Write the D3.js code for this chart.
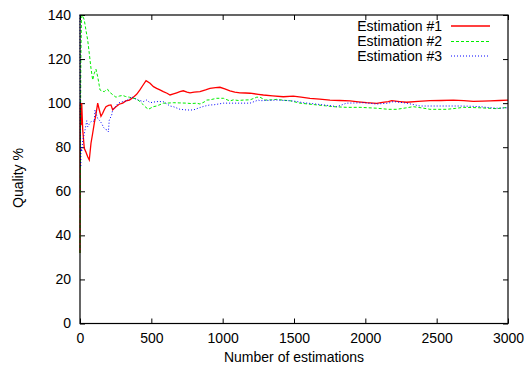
<!DOCTYPE html>
<html>
<head>
<meta charset="utf-8">
<script src="https://cdn.jsdelivr.net/npm/d3@7/dist/d3.min.js"></script>
<style>
  html, body { margin: 0; padding: 0; background: #fff; }
  svg { display: block; }
  text { font-family: "Liberation Sans", Arial, Helvetica, sans-serif; font-size: 14px; fill: #000; }
</style>
</head>
<body>
<svg id="chart" width="526" height="366"></svg>
<script>
// Running quality estimate (%) after N estimations, three independent runs.
const seriesNames = ["Estimation #1", "Estimation #2", "Estimation #3"];

const est1 = [[0,32],[1,60],[2,100],[4,95],[8,90],[12,100],[19,88],[30,79.5],[40,78],[54,75.7],[65,74.2],[77,81.8],[88,86],[100,90.8],[112,95],[124,100],[135,97],[147,94],[159,95.4],[170,97],[182,98.4],[200,99],[217,99.2],[229,97],[252,98.4],[275,99.5],[299,100],[322,101],[346,101.4],[370,102.5],[397,104],[420,106],[440,108],[463,110.2],[491,109],[515,107.5],[537,106.7],[560,106],[584,105.2],[610,104.5],[631,103.7],[655,104.2],[678,104.7],[700,105.2],[724,105.6],[750,105],[771,104.7],[800,105],[841,105.2],[880,106],[911,106.7],[950,107],[981,107.2],[1015,106.5],[1051,105.6],[1085,105],[1121,104.7],[1160,104.6],[1192,104.5],[1250,104],[1285,103.7],[1350,103.3],[1425,102.9],[1495,103.2],[1550,102.7],[1612,102.2],[1680,101.8],[1752,101.4],[1820,101.2],[1893,101],[1950,100.6],[2009,100.2],[2080,99.9],[2120,100.3],[2161,100.7],[2185,101.1],[2240,100.7],[2290,100.4],[2370,100.8],[2453,101.1],[2530,101.2],[2617,101.4],[2690,101.1],[2757,100.8],[2820,100.9],[2874,101],[2940,101.2],[3000,101.4]];

const est2 = [[0,32],[3,80],[6,120],[10,138],[15,140],[23,139],[30,137.7],[42,133],[54,128.6],[65,122.6],[77,115.8],[89,110.5],[100,113.5],[112,115.4],[124,112],[135,108],[140,106],[155,105.5],[170,105.2],[182,106],[194,106.3],[205,105],[217,104.5],[235,103.5],[252,102.7],[275,103.2],[299,103.5],[320,103],[346,102.7],[370,102.2],[393,102],[421,100.7],[440,99.5],[456,98.4],[479,97.2],[497,97.8],[514,98.4],[537,98.7],[560,99.3],[584,100],[610,100],[654,100.2],[700,100.1],[748,100],[780,99.8],[818,100],[841,99.6],[870,100.5],[888,101.4],[911,101.5],[958,102.2],[1005,102.2],[1051,101],[1075,101.5],[1110,101.2],[1145,101.4],[1192,101.5],[1239,102.7],[1262,102.7],[1297,101.4],[1340,101.5],[1379,101.7],[1430,101.3],[1472,101.1],[1542,100],[1600,99.6],[1659,99.2],[1720,98.8],[1776,98.4],[1869,98.1],[1963,98.1],[2020,97.9],[2080,97.7],[2161,97.2],[2220,97.2],[2280,97.8],[2336,98.4],[2400,97.8],[2453,97.2],[2510,97.2],[2570,97.2],[2630,97.6],[2687,98.1],[2750,98],[2804,97.9],[2860,97.7],[2921,97.5],[3000,98.1]];

const est3 = [[0,140],[1,110],[2,90],[4,75],[5,71],[7,80],[12,78],[19,83],[30,86],[47,92],[54,89.3],[65,90.5],[77,91.6],[90,92],[100,91.6],[105,96.9],[112,95.4],[124,93],[135,92.3],[152,90.8],[165,89],[180,88],[194,87.8],[199,87],[205,92.3],[222,94.6],[229,97],[250,98.5],[268,100],[290,100.5],[322,101],[345,102],[362,102.9],[385,102],[409,101.4],[444,100.7],[467,101.4],[491,100.2],[537,100.7],[561,100.7],[584,100.7],[610,99.6],[631,98.7],[654,98.4],[701,97.2],[748,96.9],[794,96.9],[841,98],[870,98.6],[911,99.2],[934,99.2],[1005,100],[1075,100],[1121,100],[1192,100],[1250,101.4],[1262,101.1],[1379,101.4],[1495,101],[1565,100.2],[1640,99.7],[1706,99.2],[1760,98.8],[1799,98.4],[1835,99.2],[1869,100],[1930,100.1],[1986,100.2],[2080,99.6],[2161,100],[2196,100.7],[2240,100.4],[2290,100],[2340,99.3],[2383,98.7],[2450,98.7],[2523,98.7],[2600,98.7],[2663,98.7],[2730,98.6],[2804,98.4],[2860,98],[2921,97.7],[3000,97.9]];

const xTicks = [0, 500, 1000, 1500, 2000, 2500, 3000];
const yTicks = [0, 20, 40, 60, 80, 100, 120, 140];

const styles = [
  { color: "#ff0000", dash: null, width: 1.3 },
  { color: "#00ee00", dash: "3,2", width: 1 },
  { color: "#0000ff", dash: "1,2", width: 1 }
];

const svg = d3.select("#chart");
const plotLeft = 80, plotRight = 508, plotTop = 15, plotBottom = 323.5;

const x = d3.scaleLinear().domain([0, 3000]).range([plotLeft, plotRight]);
const y = d3.scaleLinear().domain([0, 140]).range([plotBottom, plotTop]);

// ticks (mirrored, pointing inward)
const tickLen = 5;
const axisBottom = d3.axisBottom(x).tickValues(xTicks).tickSize(-tickLen).tickPadding(10).tickFormat(d3.format("d"));
const axisTop = d3.axisTop(x).tickValues(xTicks).tickSize(-tickLen).tickFormat("");
const axisLeft = d3.axisLeft(y).tickValues(yTicks).tickSize(-tickLen).tickPadding(9).tickFormat(d3.format("d"));
const axisRight = d3.axisRight(y).tickValues(yTicks).tickSize(-tickLen).tickFormat("");

function styleAxis(g) {
  g.select(".domain").remove();
  g.selectAll(".tick line").attr("stroke", "#000").attr("stroke-width", 1);
  g.selectAll(".tick text").attr("font-size", 14).attr("font-family", null).attr("fill", "#000");
}

svg.append("g").attr("transform", `translate(0,${plotBottom})`).call(axisBottom).call(styleAxis);
svg.append("g").attr("transform", `translate(0,${plotTop})`).call(axisTop).call(styleAxis);
svg.append("g").attr("transform", `translate(${plotLeft},0)`).call(axisLeft).call(styleAxis);
svg.append("g").attr("transform", `translate(${plotRight},0)`).call(axisRight).call(styleAxis);

// curves
const line = d3.line().x(d => x(d[0])).y(d => y(d[1]));
const plot = svg.append("g");
[est1, est2, est3].forEach((data, i) => {
  plot.append("path")
    .datum(data)
    .attr("fill", "none")
    .attr("stroke", styles[i].color)
    .attr("stroke-width", styles[i].width)
    .attr("stroke-dasharray", styles[i].dash)
    .attr("d", line);
});

// frame
svg.append("rect")
  .attr("x", plotLeft).attr("y", plotTop)
  .attr("width", plotRight - plotLeft).attr("height", plotBottom - plotTop)
  .attr("fill", "none").attr("stroke", "#000").attr("stroke-width", 1.2);

// legend
const legend = svg.append("g");
const legendRows = [26, 41.5, 56];
seriesNames.forEach((name, i) => {
  legend.append("text")
    .attr("x", 442).attr("y", legendRows[i])
    .attr("dy", "0.35em")
    .attr("text-anchor", "end")
    .text(name);
  legend.append("line")
    .attr("x1", 451).attr("x2", 490)
    .attr("y1", legendRows[i]).attr("y2", legendRows[i])
    .attr("stroke", styles[i].color)
    .attr("stroke-width", styles[i].width)
    .attr("stroke-dasharray", styles[i].dash);
});

// axis titles
svg.append("text")
  .attr("x", (plotLeft + plotRight) / 2).attr("y", 357)
  .attr("dy", "0.35em")
  .attr("text-anchor", "middle")
  .text("Number of estimations");

svg.append("text")
  .attr("transform", `translate(18,178) rotate(-90)`)
  .attr("dy", "0.35em")
  .attr("text-anchor", "middle")
  .text("Quality %");
</script>
</body>
</html>
